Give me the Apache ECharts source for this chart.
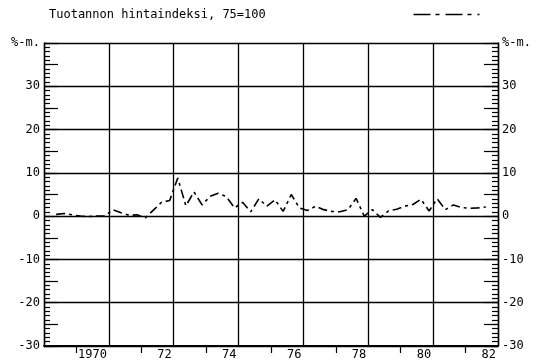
<!DOCTYPE html>
<html>
<head>
<meta charset="utf-8">
<script src="https://cdn.jsdelivr.net/npm/echarts@6/dist/echarts.min.js"></script>
<style>
  html, body { margin: 0; padding: 0; background: #fff; }
  #chart { width: 542px; height: 364px; }
</style>
</head>
<body>
<div id="chart"></div>
<script>
// Quarterly change of the production price index (%), 1968 Q2 – 1981 Q3
const seriesName = 'Tuotannon hintaindeksi, 75=100';
const firstYear = 1968;
const firstQuarter = 2;
const changePct = [
  0.4, 0.6, 0.3,              // 1968 Q2–Q4
  0.0, -0.1, 0.0, 0.0,        // 1969
  1.5, 0.8, 0.2, 0.3,         // 1970
  -0.4, 1.4, 3.2, 3.6,        // 1971
  8.8, 2.4, 5.6, 2.6,         // 1972
  4.6, 5.3, 4.5, 1.9,         // 1973
  3.2, 1.0, 4.0, 2.3,         // 1974
  3.8, 1.1, 5.0, 1.9,         // 1975
  1.3, 2.3, 1.5, 1.1,         // 1976
  1.0, 1.5, 4.1, 0.0,         // 1977
  1.5, -0.3, 1.2, 1.6,        // 1978
  2.3, 2.7, 3.9, 1.2,         // 1979
  4.0, 1.5, 2.6, 2.0,         // 1980
  1.8, 1.9, 2.1               // 1981 Q1–Q3
];
const xMin = 1968, xMax = 1982, xStep = 2;
const yMin = -30, yMax = 40, yStep = 10;
const yUnitLabel = '%-m.';

// place each quarter at its midpoint on the year axis
const points = changePct.map((v, i) => {
  const q = firstQuarter - 1 + i;
  const t = firstYear + Math.floor(q / 4) + ((q % 4) + 0.5) / 4;
  return [t, v];
});

const ink = '#000000';
const font = 'DejaVu Sans Mono';
const seriesDash = [9, 4, 3, 4];
const keyDash = [17, 5, 4, 6];
const plotBox = { left: 44, right: 44, top: 43, bottom: 18 };

function yLabel(v) { return v === yMax ? yUnitLabel : String(v); }
function xLabel(v) {
  if (v === xMin) return '';
  return v === 1970 ? '1970' : String(v).slice(2);
}

// grid 0: labelled axes with grid lines
const labelAxis = (pos) => ({
  type: 'value', gridIndex: 0, position: pos, min: yMin, max: yMax, interval: yStep,
  axisLine: { show: true, onZero: false, lineStyle: { color: ink, width: 1.4 } },
  axisTick: { show: false },
  axisLabel: {
    show: true, formatter: yLabel, color: ink, fontFamily: font, fontSize: 12,
    margin: 4
  },
  splitLine: pos === 'left'
    ? { show: true, lineStyle: { color: ink, width: 1.3 } }
    : { show: false }
});
// grids 1 and 2: tick-only axes, inward ticks every 5 and every unit
const tickAxis = (grid, pos, step, len) => ({
  type: 'value', gridIndex: grid, position: pos, min: yMin, max: yMax, interval: step,
  axisLine: { show: false, onZero: false },
  axisLabel: { show: false },
  axisTick: { show: true, inside: true, length: len, lineStyle: { color: ink, width: 1.2 } },
  splitLine: { show: false }
});
const hiddenX = (grid) => ({
  type: 'value', gridIndex: grid, min: xMin, max: xMax, show: false
});

const chart = echarts.init(document.getElementById('chart'), null, { renderer: 'canvas' });
chart.setOption({
  animation: false,
  backgroundColor: '#fff',
  title: {
    text: seriesName, left: 44, top: 4,
    textStyle: { fontFamily: font, fontSize: 12, fontWeight: 'normal', color: ink }
  },
  // line key for the series, top right
  graphic: [{
    type: 'line', right: 60, top: 12, silent: true,
    shape: { x1: 0, y1: 0, x2: 66, y2: 0 },
    style: { stroke: ink, lineWidth: 1.4, lineDash: keyDash }
  }],
  grid: [plotBox, plotBox, plotBox],
  xAxis: [{
    type: 'value', gridIndex: 0, min: xMin, max: xMax, interval: xStep,
    axisLine: { show: true, onZero: false, lineStyle: { color: ink, width: 1.8 } },
    axisTick: { show: false },
    minorTick: { show: true, splitNumber: 2, length: 7, lineStyle: { color: ink, width: 1.2 } },
    axisLabel: {
      formatter: xLabel, color: ink, fontFamily: font, fontSize: 12,
      align: 'right', margin: 3, padding: [0, 2, 0, 0], showMinLabel: false
    },
    splitLine: { show: true, lineStyle: { color: ink, width: 1.3 } }
  }, hiddenX(1), hiddenX(2)],
  yAxis: [
    labelAxis('left'), labelAxis('right'),
    tickAxis(1, 'left', 5, 14), tickAxis(1, 'right', 5, 14),
    tickAxis(2, 'left', 1, 6), tickAxis(2, 'right', 1, 6)
  ],
  series: [{
    name: seriesName,
    type: 'line',
    data: points,
    xAxisIndex: 0,
    yAxisIndex: 0,
    symbol: 'none',
    showSymbol: false,
    lineStyle: { color: ink, width: 1.6, type: seriesDash }
  }]
});
</script>
</body>
</html>
